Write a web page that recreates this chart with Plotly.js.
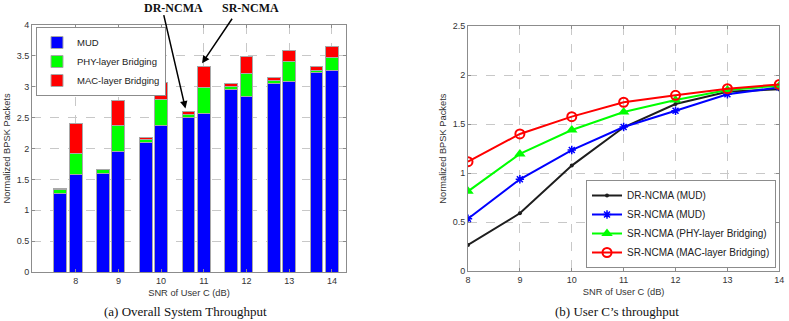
<!DOCTYPE html>
<html>
<head>
<meta charset="utf-8">
<script src="https://cdn.plot.ly/plotly-3.0.1.min.js"></script>
<style>html,body{margin:0;padding:0;background:#fff}#chart{width:789px;height:321px}</style>
</head>
<body>
<div id="chart"></div>
<script>
// ---- data ----
const snr = [8, 9, 10, 11, 12, 13, 14];
// (a) stacked segments
const drMud = [1.270, 1.603, 2.094, 2.499, 2.953, 3.060, 3.228];
const drPhy = [0.074, 0.054, 0.055, 0.044, 0.059, 0.040, 0.042];
const drMac = [0.004, 0.011, 0.032, 0.064, 0.044, 0.050, 0.055];
const srMud = [1.571, 1.948, 2.380, 2.570, 2.850, 3.080, 3.260];
const srPhy = [0.351, 0.432, 0.417, 0.426, 0.367, 0.325, 0.217];
const srMac = [0.486, 0.405, 0.273, 0.324, 0.273, 0.175, 0.183];
const segNames = ['MUD', 'PHY-layer Bridging', 'MAC-layer Bridging'];
// (b) user C throughput
const bDrMud = [0.268, 0.591, 1.077, 1.468, 1.705, 1.830, 1.855];
const bSrMud = [0.536, 0.938, 1.236, 1.471, 1.637, 1.804, 1.875];
const bSrPhy = [0.815, 1.196, 1.440, 1.624, 1.746, 1.848, 1.892];
const bSrMac = [1.117, 1.400, 1.576, 1.723, 1.794, 1.861, 1.905];
const lineNames = ['DR-NCMA (MUD)', 'SR-NCMA (MUD)', 'SR-NCMA (PHY-layer Bridging)', 'SR-NCMA (MAC-layer Bridging)'];
const yTicksA = [0, 0.5, 1, 1.5, 2, 2.5, 3, 3.5, 4];
const yTicksB = [0, 0.5, 1, 1.5, 2, 2.5];

// ---- build ----
const drOffset = 0.36;
const xBars = snr.map(v => v - drOffset).concat(snr);
const segColors = ['#0000ff', '#00ff00', '#ff0000'];
const segData = [drMud.concat(srMud), drPhy.concat(srPhy), drMac.concat(srMac)];
const traces = [];
segData.forEach((ys, i) => {
  traces.push({
    type: 'bar', x: xBars, y: ys, width: 0.3, name: segNames[i],
    marker: {color: segColors[i], line: {color: '#a8a8a8', width: 1}},
    xaxis: 'x', yaxis: 'y', legend: 'legend'
  });
});
const lineSpecs = [
  {y: bDrMud, color: '#1e1e1e', sym: 'circle', size: 4, lw: 0},
  {y: bSrMud, color: '#0000ff', sym: 'asterisk-open', size: 7, lw: 1.5},
  {y: bSrPhy, color: '#00ff00', sym: 'triangle-up', size: 10, lw: 0},
  {y: bSrMac, color: '#ff0000', sym: 'circle-open', size: 9, lw: 2}
];
lineSpecs.forEach((s, i) => {
  traces.push({
    type: 'scatter', mode: 'lines+markers', x: snr, y: s.y, name: lineNames[i],
    line: {color: s.color, width: 2},
    marker: {symbol: s.sym, size: s.size, color: s.color, line: {color: s.color, width: s.lw}},
    xaxis: 'x2', yaxis: 'y2', legend: 'legend2'
  });
});

const W = 789, H = 321;
const tickFont = {family: 'Liberation Sans, Arial, sans-serif', size: 9, color: '#333'};
function ax(extra) {
  return Object.assign({
    showline: true, mirror: 'ticks', linecolor: '#8c8c8c', linewidth: 1,
    ticks: 'inside', ticklen: 3, tickcolor: '#8c8c8c',
    showgrid: true, gridcolor: '#c8c8c8', griddash: 'dash', gridwidth: 1,
    zeroline: false, tickfont: tickFont, automargin: false
  }, extra);
}
const titleFont = {family: 'Liberation Sans, Arial, sans-serif', size: 9.3, color: '#333'};
const serif = 'Liberation Serif, Times New Roman, serif';
const layout = {
  width: W, height: H, margin: {l: 0, r: 0, t: 0, b: 0},
  paper_bgcolor: '#fff', plot_bgcolor: '#fff',
  barmode: 'stack', bargap: 0,
  xaxis: ax({domain: [32 / W, 346 / W], range: [6.977, 14.33], tickvals: snr,
    title: {text: 'SNR of User C (dB)', font: titleFont, standoff: 4}}),
  yaxis: ax({domain: [(H - 272) / H, (H - 25) / H], range: [0, 4], tickvals: yTicksA,
    ticktext: yTicksA.map(String),
    title: {text: 'Normalized BPSK Packets', font: titleFont, standoff: 4}}),
  xaxis2: ax({domain: [468 / W, 779.3 / W], range: [8, 14], tickvals: snr, anchor: 'y2',
    title: {text: 'SNR of User C (dB)', font: titleFont, standoff: 4}}),
  yaxis2: ax({domain: [(H - 271.3) / H, (H - 26) / H], range: [0, 2.5], tickvals: yTicksB,
    ticktext: yTicksB.map(String), anchor: 'x2',
    title: {text: 'Normalized BPSK Packets', font: titleFont, standoff: 4}}),
  legend: {x: 36 / W, y: 1 - 27 / H, xanchor: 'left', yanchor: 'top', traceorder: 'normal',
    bgcolor: '#fff', bordercolor: '#8c8c8c', borderwidth: 1,
    font: {family: 'Liberation Sans, Arial, sans-serif', size: 9.5, color: '#222'},
    tracegroupgap: 0, itemwidth: 30},
  legend2: {x: 776 / W, y: 1 - 268 / H, xanchor: 'right', yanchor: 'bottom', traceorder: 'normal',
    bgcolor: '#fff', bordercolor: '#8c8c8c', borderwidth: 1,
    font: {family: 'Liberation Sans, Arial, sans-serif', size: 10, color: '#222'},
    tracegroupgap: 0, itemwidth: 30},
  showlegend: true,
  annotations: [
    {xref: 'paper', yref: 'paper', x: 185 / W, y: 1 - 311 / H, xanchor: 'center', yanchor: 'middle',
      showarrow: false, text: '(a) Overall System Throughput',
      font: {family: serif, size: 13, color: '#111'}},
    {xref: 'paper', yref: 'paper', x: 617 / W, y: 1 - 311 / H, xanchor: 'center', yanchor: 'middle',
      showarrow: false, text: '(b) User C\u2019s throughput',
      font: {family: serif, size: 13, color: '#111'}},
    {xref: 'paper', yref: 'paper', x: 173 / W, y: 1 - 8 / H, xanchor: 'center', yanchor: 'middle',
      showarrow: false, text: '<b>DR-NCMA</b>',
      font: {family: serif, size: 12, color: '#111'}},
    {xref: 'paper', yref: 'paper', x: 250 / W, y: 1 - 8 / H, xanchor: 'center', yanchor: 'middle',
      showarrow: false, text: '<b>SR-NCMA</b>',
      font: {family: serif, size: 12, color: '#111'}},
    {xref: 'x', yref: 'y', x: snr[3] - drOffset - 0.07, y: drMud[3] + drPhy[3] + drMac[3] + 0.04,
      ax: -22, ay: -95, text: '', showarrow: true, arrowhead: 2, arrowsize: 1, arrowwidth: 1.5,
      arrowcolor: '#000', standoff: 0},
    {xref: 'x', yref: 'y', x: snr[3] - 0.04, y: srMud[3] + srPhy[3] + srMac[3] + 0.06,
      ax: 31, ay: -46, text: '', showarrow: true, arrowhead: 2, arrowsize: 1, arrowwidth: 1.5,
      arrowcolor: '#000', standoff: 0}
  ]
};
Plotly.newPlot('chart', traces, layout, {staticPlot: true, displayModeBar: false});
</script>
</body>
</html>
